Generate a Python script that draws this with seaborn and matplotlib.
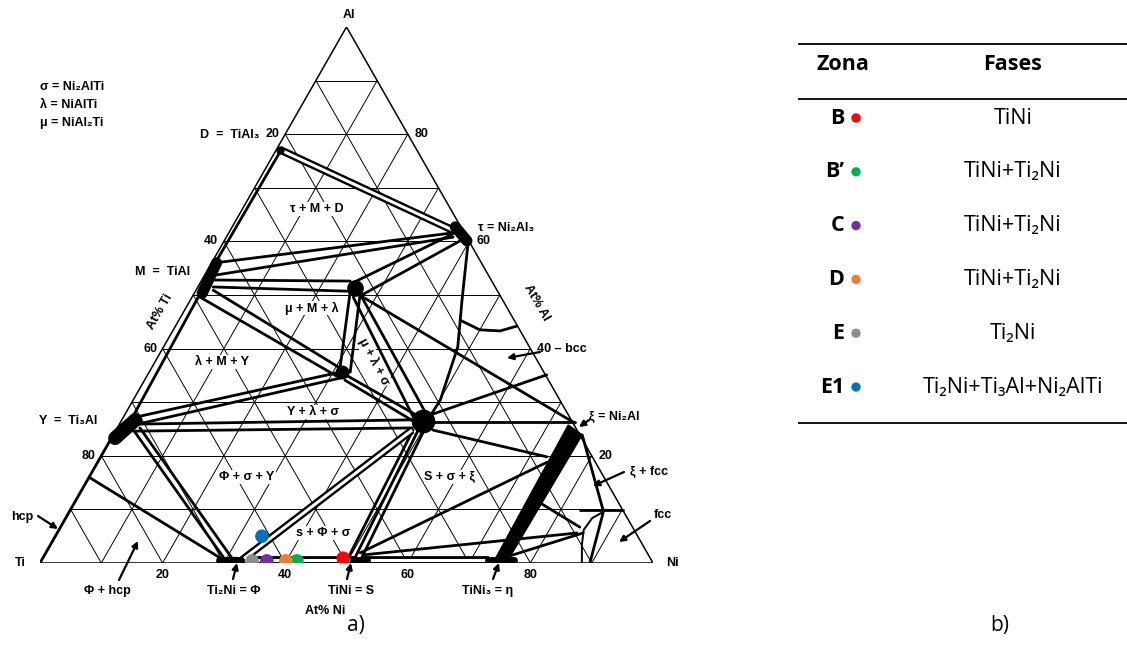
import numpy as np
import pandas as pd
import matplotlib
matplotlib.use("Agg")
import matplotlib.pyplot as plt
import matplotlib.transforms as mtransforms
from matplotlib.patches import Polygon
import seaborn as sns

sns.set_theme(style="white")
plt.rcParams["font.family"] = ["Liberation Sans", "DejaVu Sans"]
plt.rcParams["text.color"] = "black"

W, HP = 1127, 669
H = np.sqrt(3) / 2

# ---------------- sample zones (at% Ni, at% Al) ----------------
zonas = ["B", "B’", "C", "D", "E", "E1"]
fases = ["TiNi", "TiNi+Ti₂Ni", "TiNi+Ti₂Ni", "TiNi+Ti₂Ni", "Ti₂Ni",
         "Ti₂Ni+Ti₃Al+Ni₂AlTi"]
zona_colors = ["#FF0000", "#00B050", "#7030A0", "#ED7D31", "#8C8C8C", "#0070C0"]
zona_ni = [49.0, 41.7, 36.8, 39.9, 34.4, 33.7]
zona_al = [0.9, 0.4, 0.4, 0.4, 0.4, 5.0]

# ---------------- phase boundaries / tie lines (Ni1, Al1, Ni2, Al2) ----------------
tie_lines = [
    (36.6, 61.6, 0.6, 56.0), (37.0, 60.8, 1.7, 53.7),        # tau - M
    (36.9, 61.6, 24.8, 52.2), (38.7, 60.3, 27.5, 50.0),      # tau - mu
    (1.8, 52.8, 24.3, 52.6), (2.5, 51.5, 25.2, 50.7),        # M - mu
    (2.8, 50.9, 30.7, 36.4), (1.3, 49.6, 31.7, 34.5),        # M - lambda
    (25.3, 50.6, 30.9, 36.0), (27.2, 50.0, 32.8, 35.6),      # mu - lambda
    (31.1, 35.6, 1.6, 27.1), (31.7, 34.5, 2.3, 25.7),        # lambda - Y
    (31.7, 35.4, 48.4, 27.2), (32.7, 34.1, 48.0, 26.3),      # lambda - sigma
    (26.3, 49.6, 47.3, 27.2), (27.7, 49.6, 49.7, 27.2),      # mu - sigma
    (27.9, 49.6, 74.2, 26.1),                                # mu - xi
    (2.2, 25.9, 47.3, 26.7), (2.9, 24.6, 48.1, 25.2),        # Y - sigma
    (3.3, 24.4, 29.9, 0.6), (3.7, 25.2, 31.2, 0.6),          # Y - Phi
    (0.2, 15.9, 29.6, 0.6),                                  # hcp - Phi
    (48.45, 24.8, 49.8, 0.9), (49.3, 24.8, 50.9, 0.9),
    (50.3, 24.4, 52.0, 0.9),                                 # sigma - S
    (51.0, 26.3, 74.1, 26.3),                                # sigma - xi
    (51.7, 24.8, 72.8, 19.8),                                # sigma - xi (Ni side)
    (49.8, 27.6, 65.1, 35.1),                                # sigma - bcc
    (51.3, 1.9, 73.3, 18.8),                                 # S - xi
    (51.9, 1.5, 84.8, 5.6),                                  # S - fcc
    (74.3, 0.6, 85.8, 5.6),                                  # eta - fcc
    (76.0, 11.2, 84.7, 6.7),                                 # xi - fcc
    (76.5, 23.9, 86.9, 9.9),                                 # xi + fcc limit
    (83.1, 9.9, 90.2, 9.9),
    (87.2, 9.3, 89.7, 0.0),                                  # fcc field chord
    (0.8, 76.5, 0.6, 56.0),                                  # D - M along Ti-Al side
    (1.0, 50.0, 1.5, 27.0),                                  # M - Y along Ti-Al side
    (0.0, 23.0, 0.0, 0.0),                                   # hcp solid solution
]
double_ties = [
    (0.6, 77.1, 36.3, 62.1),     # D - tau
    (48.3, 24.8, 32.7, 0.6),     # sigma - Phi
    (32.5, 0.55, 51.0, 0.55),    # Phi - S
    (52.6, 0.55, 73.0, 0.55),    # S - eta
]
tau_sigma_ni = [39.9, 44.3, 48.0, 50.1, 49.9]
tau_sigma_al = [59.9, 49.1, 40.3, 30.4, 26.7]
bcc_ni = [45.9, 50.0, 53.4, 55.7]
bcc_al = [45.3, 43.5, 43.3, 44.2]
fcc_ni = [88.4, 86.7, 85.6, 85.9, 87.3]
fcc_al = [0.0, 3.4, 6.2, 8.4, 9.7]

# single-phase fields: elongated ones as short segments, compact ones as points
phase_segments = {"tau": (36.4, 62.7, 39.6, 60.1), "M": (0.8, 56.0, 1.3, 50.3),
                  "Y": (0.6, 23.3, 2.2, 26.7), "Phi": (28.9, 0.5, 32.5, 0.5),
                  "S": (50.8, 0.6, 53.0, 0.6), "eta": (72.9, 0.5, 77.0, 0.5)}
phase_points = {"D": (0.6, 77.0), "mu": (25.7, 51.3), "lambda": (31.5, 35.6),
                "sigma": (49.2, 26.5)}
xi_band_ni = [73.3, 76.5, 76.1, 73.9]
xi_band_al = [25.75, 23.9, 1.9, 0.0]


def tern(ni, al):
    ni = np.asarray(ni, float) / 100.0
    al = np.asarray(al, float) / 100.0
    return ni + al / 2.0, al * H


fig = plt.figure(figsize=(W / 100, HP / 100), dpi=100)
fig.patch.set_facecolor("white")
ax = fig.add_axes([40 / W, (HP - 563) / HP, 613 / W, 536 / HP])
ax.set_xlim(0, 1)
ax.set_ylim(0, H)
ax.axis("off")

# pixel-space transform for annotation text
pix = mtransforms.Affine2D().scale(1 / W, -1 / HP).translate(0, 1) + fig.transFigure

# ---- grid ----
for k in range(1, 10):
    v = 10 * k
    for (a, b) in [((0, v), (100 - v, v)), ((v, 0), (v, 100 - v)), ((100 - v, 0), (0, 100 - v))]:
        x, y = tern([a[0], b[0]], [a[1], b[1]])
        ax.plot(x, y, color="black", lw=0.7, zorder=1)
x, y = tern([0, 100, 0, 0], [0, 0, 100, 0])
ax.plot(x, y, color="black", lw=1.1, zorder=1)

# ---- boundaries ----
LW = 2.0
for n1, a1, n2, a2 in tie_lines:
    x, y = tern([n1, n2], [a1, a2])
    ax.plot(x, y, color="black", lw=LW, zorder=3, solid_capstyle="round")
for n1, a1, n2, a2 in double_ties:
    x, y = tern([n1, n2], [a1, a2])
    ax.plot(x, y, color="black", lw=5.6, zorder=3, solid_capstyle="butt")
    ax.plot(x, y, color="white", lw=2.2, zorder=3.1, solid_capstyle="butt")
for ni, al in [(tau_sigma_ni, tau_sigma_al), (bcc_ni, bcc_al)]:
    x, y = tern(ni, al)
    ax.plot(x, y, color="black", lw=LW, zorder=3)
x, y = tern(fcc_ni, fcc_al)
ax.plot(x, y, color="black", lw=1.4, zorder=3)

seg_width = {"tau": 8, "M": 8, "Y": 10, "Phi": 5, "S": 5, "eta": 5}
for name, (n1, a1, n2, a2) in phase_segments.items():
    x, y = tern([n1, n2], [a1, a2])
    ax.plot(x, y, color="black", lw=seg_width[name], zorder=4, solid_capstyle="round")
pt_size = {"D": 5, "mu": 11, "lambda": 9, "sigma": 16}
for name, (n, a) in phase_points.items():
    x, y = tern(n, a)
    ax.plot([x], [y], "o", color="black", ms=pt_size[name], zorder=4)
bx, by = tern(xi_band_ni, xi_band_al)
ax.add_patch(Polygon(np.column_stack([bx, by]), closed=True, color="black", zorder=4))

# ---- sample points ----
zdf = pd.DataFrame({"zona": zonas, "ni": zona_ni, "al": zona_al})
zdf["x"], zdf["y"] = tern(zdf["ni"], zdf["al"])
sns.scatterplot(data=zdf, x="x", y="y", hue="zona", palette=dict(zip(zonas, zona_colors)),
                s=95, linewidth=0, legend=False, ax=ax, zorder=6)
ax.set_xlim(0, 1)
ax.set_ylim(0, H)
ax.axis("off")

# ---- axis numbers ----
fs_num = 9
for v in [20, 40, 60, 80]:
    x, y = tern(0, 100 - v)
    ax.annotate(str(v), (x, y), xytext=(-4, 0), textcoords="offset points", ha="right",
                va="center", fontsize=fs_num, fontweight="bold", zorder=5)
    x, y = tern(v, 0)
    ax.annotate(str(v), (x, y), xytext=(0, -8.5), textcoords="offset points", ha="center",
                va="center", fontsize=fs_num, fontweight="bold", zorder=5)
for v in [80, 60, 40, 20]:
    x, y = tern(100 - v, v)
    lab = "40 – bcc" if v == 40 else str(v)
    ax.annotate(lab, (x, y), xytext=(5, 0), textcoords="offset points", ha="left",
                va="center", fontsize=fs_num, fontweight="bold", zorder=5)

# ---- labels ----
fs_lab = 9


def label(px_, py_, s, ha="center", rot=0, box=True, size=fs_lab):
    kw = dict(bbox=dict(facecolor="white", edgecolor="none", pad=0.6)) if box else {}
    ax.text(px_, py_, s, transform=pix, ha=ha, va="center", rotation=rot,
            fontsize=size, fontweight="bold", zorder=2.5, rotation_mode="anchor", **kw)


label(40, 87, "σ = Ni₂AlTi", ha="left", box=False)
label(40, 105, "λ = NiAlTi", ha="left", box=False)
label(40, 123, "μ = NiAl₂Ti", ha="left", box=False)
label(349, 15, "Al", box=False)
label(259, 135, "D  =  TiAl₃", ha="right", box=False)
label(163, 272, "M  =  TiAl", box=False)
label(68, 421, "Y  =  Ti₃Al", box=False)
label(20, 563, "Ti", box=False)
label(672, 563, "Ni", box=False)
label(22, 517, "hcp", box=False)
label(107, 591, "Φ + hcp", box=False)
label(234, 591, "Ti₂Ni = Φ", box=False)
label(351, 591, "TiNi = S", box=False)
label(325, 611, "At% Ni", box=False)
label(488, 591, "TiNi₃ = η", box=False)
label(478, 228, "τ = Ni₂Al₃", ha="left", box=False)
label(537, 303, "At% Al", rot=-60, box=False)
label(160, 312, "At% Ti", rot=60, box=False)
label(614, 417, "ξ = Ni₂Al", box=False)
label(649, 472, "ξ + fcc", box=False)
label(663, 515, "fcc", box=False)
label(317, 209, "τ + M + D")
label(312, 308, "μ + M + λ")
label(222, 362, "λ + M + Y")
label(313, 412, "Y + λ + σ")
label(374, 362, "μ + λ + σ", rot=-62)
label(247, 477, "Φ + σ + Y")
label(323, 533, "s + Φ + σ")
label(450, 477, "S + σ + ξ")

arrows = [((38, 516), (58, 529)), ((119, 580), (138, 541)), ((233, 579), (237, 563)),
          ((347, 579), (351, 563)), ((493, 579), (499, 563)), ((540, 352), (507, 358)),
          ((589, 420), (579, 427)), ((624, 472), (593, 486)), ((650, 521), (619, 542))]
for (x0, y0), (x1, y1) in arrows:
    ax.annotate("", xy=(x1, y1), xytext=(x0, y0), xycoords=pix, textcoords=pix,
                arrowprops=dict(arrowstyle="-|>", color="black", lw=1.6, mutation_scale=9,
                                shrinkA=0, shrinkB=0), zorder=5)

tfam = ["Open Sans", "DejaVu Sans"]
fig.text(356 / W, 1 - 626 / HP, "a)", ha="center", va="center", fontsize=15, family=tfam)
fig.text(1000 / W, 1 - 626 / HP, "b)", ha="center", va="center", fontsize=15, family=tfam)

# ---------------- zone table ----------------
tab = fig.add_axes([798 / W, 0, 329 / W, 1])
rows = np.arange(1, len(zonas) + 1)
tdf = pd.DataFrame({"zona": zonas, "row": rows, "x": 58.0})
sns.scatterplot(data=tdf, x="x", y="row", hue="zona", palette=dict(zip(zonas, zona_colors)),
                s=45, linewidth=0, legend=False, ax=tab)
tab.set_xlim(0, 329)
tab.set_ylim(11.24, -1.193)
tab.axis("off")
for yr in [-0.375, 0.647, 6.67]:
    tab.plot([0, 329], [yr, yr], color="black", lw=1.3)
fs_tab = 15.5
tab.text(45, 0, "Zona", ha="center", va="center", fontsize=fs_tab, fontweight="bold", family=tfam)
tab.text(215, 0, "Fases", ha="center", va="center", fontsize=fs_tab, fontweight="bold", family=tfam)
for r, z, f in zip(rows, zonas, fases):
    tab.text(46, r, z, ha="right", va="center", fontsize=fs_tab, fontweight="bold", family=tfam)
    tab.text(215, r, f, ha="center", va="center", fontsize=fs_tab, family=tfam)

fig.savefig("out.png", dpi=100, facecolor="white")
